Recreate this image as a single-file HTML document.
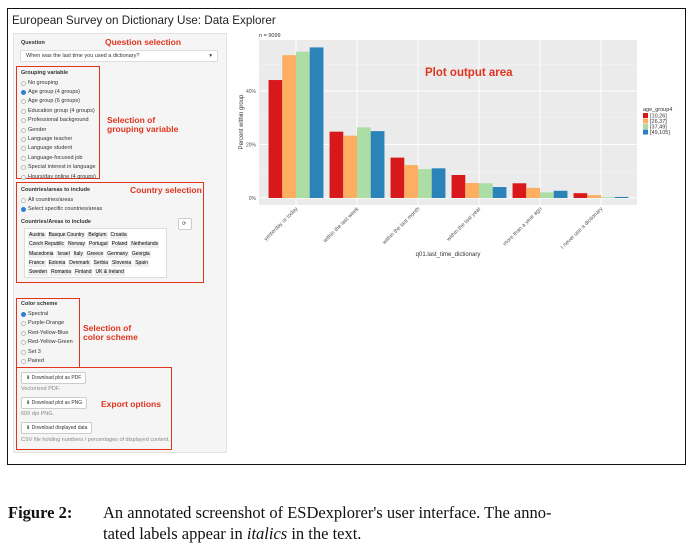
<!DOCTYPE html>
<html><head><meta charset="utf-8"><style>
*{box-sizing:border-box}
body{margin:0;width:693px;height:546px;background:#fff;position:relative;overflow:hidden;font-family:"Liberation Sans",sans-serif}
.abs{position:absolute}
.t{position:absolute;font-size:5.5px;color:#333;white-space:nowrap;line-height:7px}
.rb{position:absolute;width:5px;height:5px;border:0.6px solid #bbb;border-radius:50%;background:#fff}
.rb.on{background:#2d7fd6;border-color:#2d7fd6}
.red{position:absolute;border:1.5px solid #e0341e}
.ann{position:absolute;color:#e0341e;font-weight:bold;font-size:8.5px;line-height:9px;white-space:nowrap}
.btn{position:absolute;background:#fff;border:0.6px solid #ccc;border-radius:2px;font-size:5px;color:#333;padding:2px 4px;white-space:nowrap}
.chip{display:inline-block;background:#eee;margin:1px 1px;padding:0 1px;font-size:5px;line-height:7px}
</style></head><body>
<div class="abs" style="left:7px;top:8px;width:679px;height:457px;border:1.2px solid #111"></div>
<div class="abs" style="left:12px;top:14px;font-size:11.7px;color:#222;white-space:nowrap">European Survey on Dictionary Use: Data Explorer</div>
<div class="abs" style="left:13px;top:33px;width:214px;height:420px;background:#f5f5f5;border:0.6px solid #e3e3e3"></div>

<div class="t" style="left:21px;top:40px;font-weight:bold">Question</div>
<div class="abs" style="left:20px;top:50px;width:198px;height:12px;background:#fff;border:0.6px solid #ddd;border-radius:2px"><span class="t" style="left:5px;top:2px">When was the last time you used a dictionary?</span><span class="t" style="right:5px;top:2px">▾</span></div>
<div class="ann" style="left:105px;top:38px">Question selection</div>

<div class="red" style="left:16px;top:66px;width:84px;height:113px"></div>
<div class="t" style="left:21px;top:70px;font-weight:bold">Grouping variable</div>
<div id="grp"></div>
<div class="ann" style="left:107px;top:116px">Selection of<br>grouping variable</div>

<div class="red" style="left:16px;top:182px;width:188px;height:101px"></div>
<div class="t" style="left:21px;top:187px;font-weight:bold">Countries/areas to include</div>
<div class="rb" style="left:21px;top:198px"></div><div class="t" style="left:28px;top:197px">All countries/areas</div>
<div class="rb on" style="left:21px;top:207px"></div><div class="t" style="left:28px;top:206px">Select specific countries/areas</div>
<div class="t" style="left:21px;top:219px;font-weight:bold">Countries/Areas to include</div>
<div class="abs" style="left:24px;top:228px;width:143px;height:50px;background:#fff;border:0.6px solid #ddd;padding:2px 2px;line-height:9.3px;font-size:5px">
<span class="chip">Austria</span><span class="chip">Basque Country</span><span class="chip">Belgium</span><span class="chip">Croatia</span><br><span class="chip">Czech Republic</span><span class="chip">Norway</span><span class="chip">Portugal</span><span class="chip">Poland</span><span class="chip">Netherlands</span><br><span class="chip">Macedonia</span><span class="chip">Israel</span><span class="chip">Italy</span><span class="chip">Greece</span><span class="chip">Germany</span><span class="chip">Georgia</span><br><span class="chip">France</span><span class="chip">Estonia</span><span class="chip">Denmark</span><span class="chip">Serbia</span><span class="chip">Slovenia</span><span class="chip">Spain</span><br><span class="chip">Sweden</span><span class="chip">Romania</span><span class="chip">Finland</span><span class="chip">UK &amp; Ireland</span></div>
<div class="btn" style="left:178px;top:218px;width:14px;height:12px;padding:2px 3px">⟳</div>
<div class="ann" style="left:130px;top:186px">Country selection</div>

<div class="red" style="left:16px;top:298px;width:64px;height:70px"></div>
<div class="t" style="left:21px;top:301px;font-weight:bold">Color scheme</div>
<div id="col"></div>
<div class="ann" style="left:83px;top:324px">Selection of<br>color scheme</div>

<div class="red" style="left:16px;top:367px;width:156px;height:83px"></div>
<div class="btn" style="left:21px;top:372px">⬇ Download plot as PDF</div>
<div class="t" style="left:21px;top:386px;color:#888">Vectorized PDF.</div>
<div class="btn" style="left:21px;top:397px">⬇ Download plot as PNG</div>
<div class="t" style="left:21px;top:411px;color:#888">600 dpi PNG.</div>
<div class="btn" style="left:21px;top:422px">⬇ Download displayed data</div>
<div class="t" style="left:21px;top:437px;color:#888">CSV file holding numbers / percentages of displayed content.</div>
<div class="ann" style="left:101px;top:400px">Export options</div>

<svg class="abs" style="left:0;top:0" width="693" height="546" id="chart"></svg>

<div class="abs" style="left:8px;top:502px;width:680px;font-family:'Liberation Serif',serif;font-size:16.5px;line-height:21px;color:#111">
<span style="position:absolute;left:0;font-weight:bold">Figure 2:</span>
<div style="margin-left:95px">An annotated screenshot of ESDexplorer's user interface. The anno-<br>tated labels appear in <i>italics</i> in the text.</div></div>

<script>
const groupOpts=["No grouping","Age group (4 groups)","Age group (6 groups)","Education group (4 groups)","Professional background","Gender","Language teacher","Language student","Language-focused job","Special interest in language","Hours/day online (4 groups)"];
const colorOpts=["Spectral","Purple-Orange","Red-Yellow-Blue","Red-Yellow-Green","Set 3","Paired"];
function radios(id,list,y0,dy,sel){const c=document.getElementById(id);list.forEach((s,i)=>{const y=y0+i*dy;
const r=document.createElement('div');r.className='rb'+(i===sel?' on':'');r.style.left='21px';r.style.top=y+'px';


const t=document.createElement('div');t.className='t';t.style.left='28px';t.style.top=(y-1)+'px';t.textContent=s;


c.appendChild(r);c.appendChild(t);});}
radios('grp',groupOpts,80.5,9.4,1);
radios('col',colorOpts,312,9.4,0);

const categories=["yesterday or today","within the last week","within the last month","within the last year","more than a year ago","I never use a dictionary"];
const seriesNames=["[10,26]","[26,37]","[37,49]","[49,105]"];
const s1=[44.1,24.8,15.1,8.6,5.5,1.8];
const s2=[53.4,23.3,12.3,5.6,3.8,1.1];
const s3=[54.7,26.4,10.8,5.5,2.1,0.3];
const s4=[56.3,25.0,11.1,4.1,2.7,0.4];
const colors=["#d7191c","#fdae61","#abdda4","#2b83ba"];
const yTicks=[0,20,40];
const svg=document.getElementById('chart');const NS='http://www.w3.org/2000/svg';
function el(tag,a,txt){const e=document.createElementNS(NS,tag);for(const k in a)e.setAttribute(k,a[k]);if(txt!=null)e.textContent=txt;svg.appendChild(e);return e;}
const P={l:259,r:637,t:40,b:205};
const y=v=>198-v*2.675;
const step=61, x0=296;
const x=i=>x0+i*step;
const bw=step*0.9/4;
let e=el('rect',{x:P.l,y:P.t,width:P.r-P.l,height:P.b-P.t,fill:'#ebebeb'});


[10,30,50].forEach(v=>el('line',{x1:P.l,x2:P.r,y1:y(v),y2:y(v),stroke:'#f4f4f4','stroke-width':0.5}));
yTicks.forEach(v=>{el('line',{x1:P.l,x2:P.r,y1:y(v),y2:y(v),stroke:'#fff','stroke-width':1});
e=el('text',{x:P.l-3,y:y(v)+2,'font-size':5,fill:'#555','text-anchor':'end'},v+'%');

});
categories.forEach((c,i)=>{el('line',{x1:x(i),x2:x(i),y1:P.t,y2:P.b,stroke:'#fff','stroke-width':1});
e=el('text',{x:x(i)+2,y:P.b+4,'font-size':5.5,fill:'#555','text-anchor':'end',transform:`rotate(-45 ${x(i)+2} ${P.b+4})`},c);

});
[s1,s2,s3,s4].forEach((s,k)=>s.forEach((v,i)=>{const bx=x(i)-2*bw+k*bw;
const r=el('rect',{x:bx,y:y(v),width:bw,height:y(0)-y(v),fill:colors[k]});

}));
e=el('text',{x:448,y:256,'font-size':6,fill:'#333','text-anchor':'middle'},'q01.last_time_dictionary');


e=el('text',{x:243,y:122,'font-size':6,fill:'#333','text-anchor':'middle',transform:'rotate(-90 243 122)'},'Percent within group');


e=el('text',{x:259,y:37,'font-size':5.5,fill:'#333'},'n = 9099');


e=el('text',{x:425,y:76,'font-size':11.5,'font-weight':'bold',fill:'#e0341e'},'Plot output area');


e=el('text',{x:643,y:111,'font-size':5.5,fill:'#333'},'age_group4');


seriesNames.forEach((n,k)=>{const ly=113+k*5.5;
const r=el('rect',{x:643,y:ly,width:5,height:5,fill:colors[k]});


const t=el('text',{x:650,y:ly+4.5,'font-size':5.5,fill:'#333'},n);

});
</script>
</body></html>
